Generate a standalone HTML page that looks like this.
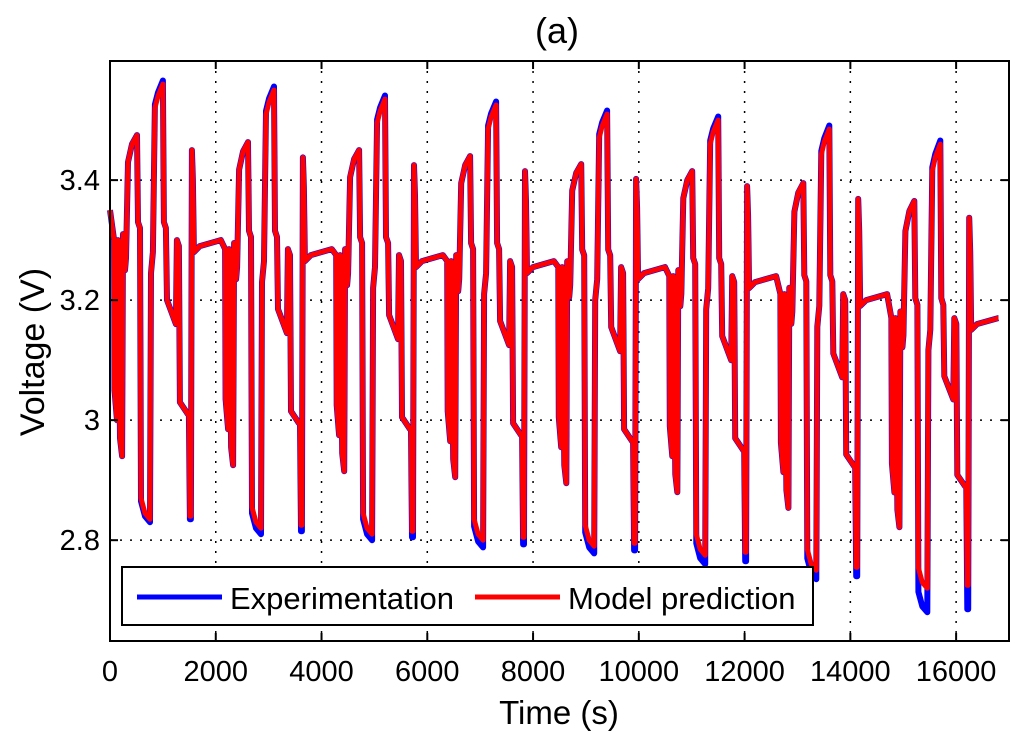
<!DOCTYPE html>
<html><head><meta charset="utf-8"><style>
body{margin:0;background:#fff;}
svg{display:block;font-family:"Liberation Sans",Arial,sans-serif;}
</style></head><body>
<svg id="chart" width="1024" height="741" viewBox="0 0 1024 741">
<rect width="1024" height="741" fill="#fff"/>
<text x="557" y="43" font-size="36" text-anchor="middle">(a)</text>
<g id="grid"></g>
<g id="series"></g>
<rect x="110" y="61" width="899" height="580" fill="none" stroke="#000" stroke-width="2"/>
<g id="ticks"></g>
<text x="559" y="724" font-size="33" text-anchor="middle">Time (s)</text>
<text transform="translate(44,352) rotate(-90)" font-size="34" text-anchor="middle">Voltage (V)</text>
<g>
<rect x="122" y="567" width="691" height="58" fill="#fff" stroke="#000" stroke-width="2"/>
<line x1="137" y1="597" x2="222" y2="597" stroke="#0000ff" stroke-width="5"/>
<text x="230" y="609" font-size="31">Experimentation</text>
<line x1="475" y1="597" x2="560" y2="597" stroke="#ff0000" stroke-width="5"/>
<text x="568" y="609" font-size="31">Model prediction</text>
</g>
</svg>
<script>
const xTicks=[0,2000,4000,6000,8000,10000,12000,14000,16000];
const yTicks=[2.8,3.0,3.2,3.4];
const yTickLabels=["2.8","3","3.2","3.4"];
// one cycle profile: time offset from rise (s) and voltage (V)
const cycleOffsets=[-226,-217,-170,-151,-113,-75,-57,-19,0,38,113,207,226,264,283,358,453,472,509,547,604,698,717,755,774,943,962,1000,1019,1170,1189,1208,1226,1245,1264,1283,1396,1792];
const cycleVolts=[3.30,3.05,3.00,3.30,2.97,2.94,3.31,3.25,3.27,3.43,3.46,3.475,3.33,3.32,2.87,2.845,2.835,3.245,3.28,3.52,3.54,3.56,3.33,3.32,3.20,3.16,3.30,3.29,3.03,3.01,3.01,2.84,2.84,3.45,3.40,3.28,3.29,3.30];
// per-cycle levels
const riseTimes=[303,2403,4503,6603,8703,10803,12903,15003];
const restLevels=[3.30,3.285,3.275,3.265,3.255,3.24,3.21,3.17];
const peakLevels=[3.56,3.55,3.535,3.525,3.51,3.50,3.485,3.46];
const troughLevels=[2.835,2.82,2.81,2.80,2.79,2.775,2.75,2.72];
const expTroughExtra=[0.005,0.01,0.01,0.012,0.012,0.015,0.015,0.04];
const startVoltage=3.35, endTime=16800;

const X0=110,X1=1009,Y0=641,Y1=61,xMin=0,xMax=17000,yMin=2.632,yMax=3.5985;
const xs=t=>X0+(t-xMin)/(xMax-xMin)*(X1-X0);
const ys=v=>Y0-(v-yMin)/(yMax-yMin)*(Y0-Y1);
const NS="http://www.w3.org/2000/svg";
const grid=document.getElementById('grid'),ticks=document.getElementById('ticks'),series=document.getElementById('series');
xTicks.forEach(t=>{
  const x=xs(t);
  if(t>0){const l=document.createElementNS(NS,'line');
  l.setAttribute('x1',x);l.setAttribute('x2',x);l.setAttribute('y1',Y1);l.setAttribute('y2',Y0);
  l.setAttribute('stroke','#000');l.setAttribute('stroke-width','1.5');l.setAttribute('stroke-dasharray','2 8');
  
  grid.appendChild(l);}
  [[Y0,Y0-8],[Y1,Y1+8]].forEach(p=>{const k=document.createElementNS(NS,'line');
  k.setAttribute('x1',x);k.setAttribute('x2',x);k.setAttribute('y1',p[0]);k.setAttribute('y2',p[1]);k.setAttribute('stroke','#000');k.setAttribute('stroke-width','2');
  
  ticks.appendChild(k);});
  const tx=document.createElementNS(NS,'text');tx.setAttribute('x',x);tx.setAttribute('y',681);tx.setAttribute('font-size','29');tx.setAttribute('text-anchor','middle');tx.textContent=t;
  
  ticks.appendChild(tx);
});
yTicks.forEach((v,i)=>{
  const y=ys(v);
  const l=document.createElementNS(NS,'line');
  l.setAttribute('x1',X0);l.setAttribute('x2',X1);l.setAttribute('y1',y);l.setAttribute('y2',y);
  l.setAttribute('stroke','#000');l.setAttribute('stroke-width','1.5');l.setAttribute('stroke-dasharray','2 8');
  
  grid.appendChild(l);
  [[X0,X0+8],[X1,X1-8]].forEach(p=>{const k=document.createElementNS(NS,'line');
  k.setAttribute('x1',p[0]);k.setAttribute('x2',p[1]);k.setAttribute('y1',y);k.setAttribute('y2',y);k.setAttribute('stroke','#000');k.setAttribute('stroke-width','2');
  
  ticks.appendChild(k);});
  const tx=document.createElementNS(NS,'text');tx.setAttribute('x',100);tx.setAttribute('y',y+10);tx.setAttribute('font-size','29');tx.setAttribute('text-anchor','end');tx.textContent=yTickLabels[i];
  
  ticks.appendChild(tx);
});
function build(isExp){
  const pts=[[0,startVoltage]];
  riseTimes.forEach((rt,k)=>{
    cycleOffsets.forEach((o,i)=>{
      const t=rt+o; if(t<30||t>endTime) return;
      const v=cycleVolts[i]; let nv;
      if(v>=3.30) nv=restLevels[k]+(v-3.30)*(peakLevels[k]-restLevels[k])/(3.56-3.30);
      else nv=restLevels[k]-(3.30-v)*(restLevels[k]-troughLevels[k])/(3.30-2.835);
      if(isExp&&v<2.9) nv-=expTroughExtra[k];
      if(isExp&&v>3.5) nv+=0.006;
      pts.push([t,nv]);
    });
  });
  pts.push([endTime,restLevels[7]]);
  return pts;
}
[[true,'#0000ff','experimentation-line'],[false,'#ff0000','model-prediction-line']].forEach(s=>{
  const p=document.createElementNS(NS,'path');
  p.setAttribute('d',build(s[0]).map((q,i)=>(i?'L':'M')+xs(q[0]).toFixed(1)+' '+ys(q[1]).toFixed(1)).join(''));
  p.setAttribute('fill','none');p.setAttribute('stroke',s[1]);p.setAttribute('stroke-width',s[0]?'6':'5');p.setAttribute('stroke-linejoin','round');
  
  
  series.appendChild(p);
});
</script>
</body></html>
